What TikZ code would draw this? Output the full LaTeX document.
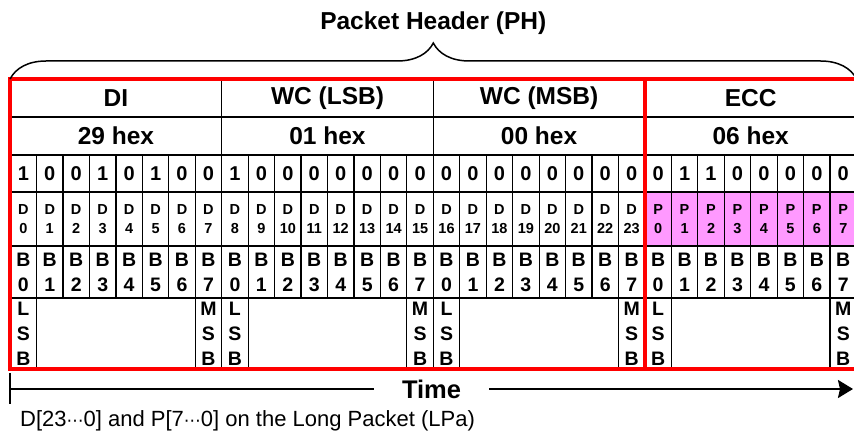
\documentclass[tikz,border=0pt]{standalone}
\usepackage{fontspec}
\setmainfont{Liberation Sans}
\newfontfamily\dotsfont{DejaVu Sans}
\usetikzlibrary{arrows.meta, decorations.pathreplacing}

\definecolor{boxred}{RGB}{255,0,0}
\definecolor{parpink}{RGB}{255,153,255}
\newcommand{\midots}{{\dotsfont\fontsize{17}{20}\selectfont ⋯}}

\begin{document}
\begin{tikzpicture}[
        x=1pt, y=-1pt,
        grid/.style={draw=black, line width=1.2pt, inner sep=0pt, outer sep=0pt, align=center},
        bytecell/.style={grid, minimum width=211.6pt, minimum height=38pt, font=\bfseries\fontsize{24.5}{28}\selectfont},
        bitcell/.style={grid, minimum width=26.45pt, minimum height=37pt, font=\bfseries\fontsize{20}{24}\selectfont},
        dcell/.style={grid, minimum width=26.45pt, minimum height=54pt, font=\bfseries\fontsize{14.5}{19}\selectfont},
        pcell/.style={dcell, fill=parpink},
        bcell/.style={grid, minimum width=26.45pt, minimum height=52pt, font=\bfseries\fontsize{19.5}{25}\selectfont},
        sigcell/.style={grid, minimum width=26.45pt, minimum height=71pt, font=\bfseries\fontsize{19.5}{25}\selectfont},
        gapcell/.style={grid, minimum width=158.7pt, minimum height=71pt},
        redbox/.style={draw=boxred, line width=4.5pt},
        headbrace/.style={decorate, decoration={brace, amplitude=36pt}, line width=1.5pt},
        timeline/.style={line width=2.2pt, -{Stealth[length=15pt, width=18pt, inset=2pt]}},
        timelabel/.style={fill=white, inner xsep=28pt, inner ysep=0pt, font=\bfseries\fontsize{25.5}{28}\selectfont},
        title/.style={font=\bfseries\fontsize{24.5}{28}\selectfont},
        caption/.style={inner sep=0pt, font=\fontsize{22}{26}\selectfont}
    ]
    \useasboundingbox (0,0) rectangle (854,435);
    \clip (0,0) rectangle (854,435);

    % field names and values, one per byte
    \foreach \fname/\hexval [count=\k from 0] in {DI/29, WC (LSB)/01, WC (MSB)/00, ECC/06} {
        \node[bytecell] (field-\k) at ({10.1+211.6*\k+105.8},98) {\fname};
        \node[bytecell] (hex-\k) at ({10.1+211.6*\k+105.8},136) {\hexval\ hex};
    }

    % bit values
    \foreach \bval [count=\i from 0] in {1,0,0,1,0,1,0,0, 1,0,0,0,0,0,0,0, 0,0,0,0,0,0,0,0, 0,1,1,0,0,0,0,0} {
        \node[bitcell] (bit-\i) at ({10.1+26.45*\i+13.225},173.5) {\bval};
    }

    % D / P indices and byte bit numbers
    \foreach \i in {0,...,31} {
        \pgfmathtruncatemacro\bnum{mod(\i,8)}
        \ifnum\i<24
            \node[dcell] (d-\i) at ({10.1+26.45*\i+13.225},219) {D\\\i};
        \else
            \node[pcell] (d-\i) at ({10.1+26.45*\i+13.225},219) {P\\\bnum};
        \fi
        \node[bcell] (b-\i) at ({10.1+26.45*\i+13.225},272) {B\\\bnum};
    }

    % LSB / MSB marks
    \foreach \k in {0,...,3} {
        \node[sigcell] (lsb-\k) at ({10.1+211.6*\k+13.225},333.5) {L\\S\\B};
        \node[gapcell] (gap-\k) at ({10.1+211.6*\k+105.8},333.5) {};
        \node[sigcell] (msb-\k) at ({10.1+211.6*\k+198.375},333.5) {M\\S\\B};
    }

    \draw[redbox] (field-0.north west) rectangle (msb-2.south east);
    \draw[redbox] (field-3.north west) rectangle (msb-3.south east);

    % packet header brace
    \coordinate (brace-l) at (10.1,79);
    \coordinate (brace-r) at (856.5,79);
    \draw[headbrace] (brace-l) -- (brace-r);
    \node[title, anchor=base] (ph) at (433.3,30) {Packet Header (PH)};

    % time axis
    \coordinate (tick-top) at (10.1,373);
    \coordinate (tick-bot) at (10.1,404);
    \coordinate (t-start) at (10.1,389);
    \coordinate (t-end) at (853,389);
    \draw[line width=1.5pt] (tick-top) -- (tick-bot);
    \draw[timeline] (t-start) -- node[timelabel] (time) {Time} (t-end);

    \node[caption, anchor=base west] (note) at (20,426) {D[23\midots0] and P[7\midots0] on the Long Packet (LPa)};
\end{tikzpicture}
\end{document}
